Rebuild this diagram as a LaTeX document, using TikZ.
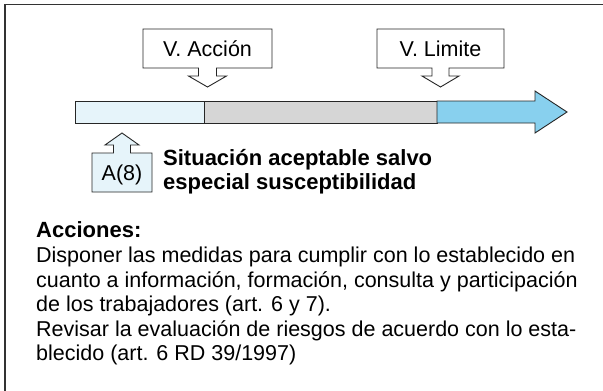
\documentclass[tikz,border=0pt]{standalone}
\usepackage{fontspec}
\setmainfont{Liberation Sans}
\definecolor{lightseg}{HTML}{E6F4FA}
\definecolor{greyseg}{HTML}{D6D6D6}
\definecolor{blueseg}{HTML}{88D0EE}
\definecolor{framecol}{HTML}{333333}
\begin{document}
\begin{tikzpicture}[x=1bp,y=-1bp,
  outl/.style={draw=black!85, line width=0.9bp, line join=miter},
  txt/.style={inner sep=0pt, anchor=base west, font=\fontsize{21.5bp}{24bp}\selectfont},
  btxt/.style={inner sep=0pt, anchor=base west, font=\fontsize{22bp}{24bp}\selectfont\bfseries},
  lbl/.style={inner sep=0pt, anchor=base, font=\fontsize{21.5bp}{24bp}\selectfont}]
\useasboundingbox (0,0) rectangle (603,390);
\fill[white] (0,0) rectangle (603,390);
% frame (top and left visible)
\draw[line width=1.6bp, draw=framecol] (5,391) -- (5,4.5) -- (604,4.5);

% bar
\draw[outl, fill=lightseg] (75,101) rectangle (204,123);
\draw[outl, fill=greyseg] (204,101) rectangle (437,123);
\draw[outl, fill=blueseg] (437,101) -- (535,101) -- (535,91) -- (567,112)
  -- (535,133) -- (535,123) -- (437,123) -- cycle;

% V. Accion callout
\draw[outl, fill=white] (143,29) -- (272,29) -- (272,68) -- (216.5,68) -- (216.5,76)
  -- (226.5,76) -- (207.5,87) -- (188.5,76) -- (198.5,76) -- (198.5,68)
  -- (143,68) -- cycle;
\node[lbl] (vaccion) at (207.5,56.5) {V. Acción};

% V. Limite callout
\draw[outl, fill=white] (377,29) -- (504,29) -- (504,68) -- (449,68) -- (449,76)
  -- (459,76) -- (440.5,87) -- (422,76) -- (432,76) -- (432,68)
  -- (377,68) -- cycle;
\node[lbl] (vlimite) at (440.5,56.5) {V. Limite};

% A(8) callout
\draw[outl, fill=lightseg] (92,192) -- (92,153) -- (113.5,153) -- (113.5,145)
  -- (105,145) -- (122,133) -- (139,145) -- (130.5,145) -- (130.5,153)
  -- (152,153) -- (152,192) -- cycle;
\node[lbl] (a8) at (122,180) {A(8)};

% bold note
\node[btxt] (sit1) at (163,165) {Situación aceptable salvo};
\node[btxt] (sit2) at (163,189) {especial susceptibilidad};

% actions text
\node[btxt] (acc) at (36,237) {Acciones:};
\node[txt] (l1) at (36,262) {Disponer las medidas para cumplir con lo establecido en};
\node[txt] (l2) at (36,287) {cuanto a información, formación, consulta y participación};
\node[txt] (l3) at (36,311) {de los trabajadores (art. 6 y 7).};
\node[txt] (l4) at (36,336) {Revisar la evaluación de riesgos de acuerdo con lo esta-};
\node[txt] (l5) at (36,360) {blecido (art. 6 RD 39/1997)};
\end{tikzpicture}
\end{document}
